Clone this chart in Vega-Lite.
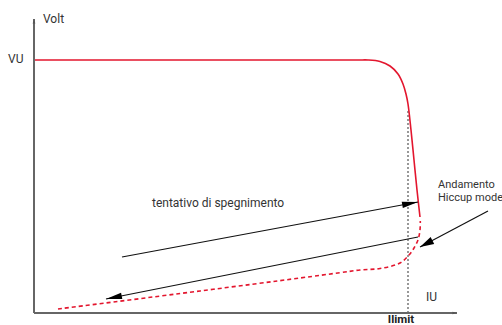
{
  "$schema": "https://vega.github.io/schema/vega-lite/v6.json",
  "width": 502,
  "height": 325,
  "padding": 0,
  "autosize": {"type": "none"},
  "config": {"view": {"stroke": null}, "axis": {"disable": true}},
  "datasets": {
    "axes": [
      {"id": "yaxis", "i1": 0, "v1": 0, "i2": 0, "v2": 294},
      {"id": "xaxis", "i1": 0, "v1": 0, "i2": 423, "v2": 0}
    ],
    "solid": [
      {"I": 1, "V": 253}, {"I": 300, "V": 253}, {"I": 325, "V": 253}, {"I": 334, "V": 253}, {"I": 346, "V": 251.5}, {"I": 356, "V": 247},
      {"I": 364, "V": 239}, {"I": 369, "V": 229}, {"I": 372, "V": 219}, {"I": 374, "V": 209},
      {"I": 377, "V": 183}, {"I": 380, "V": 153}, {"I": 383, "V": 123}, {"I": 386, "V": 96}
    ],
    "dashed": [
      {"I": 24, "V": 4}, {"I": 166, "V": 22}, {"I": 266, "V": 35}, {"I": 306, "V": 40.3}, {"I": 326, "V": 43},
      {"I": 346, "V": 44.5}, {"I": 366, "V": 50}, {"I": 375, "V": 58}, {"I": 380, "V": 65},
      {"I": 384, "V": 73}, {"I": 386, "V": 83}, {"I": 386.3, "V": 92}
    ],
    "limit": [{"I": 374, "v1": 0, "v2": 203}],
    "arrows": [
      {"id": "a1", "i1": 88, "v1": 56, "i2": 384, "v2": 111},
      {"id": "a2", "i1": 384, "v1": 76, "i2": 72, "v2": 14},
      {"id": "a3", "i1": 454, "v1": 102, "i2": 386, "v2": 66}
    ],
    "labels": [
      {"text": "Volt", "I": 9, "V": 294},
      {"text": "VU", "I": -26, "V": 254},
      {"text": "IU", "I": 392, "V": 16},
      {"text": "tentativo di spegnimento", "I": 118, "V": 110}
    ],
    "note": [
      {"text": "Andamento", "I": 404, "V": 128},
      {"text": "Hiccup mode", "I": 404, "V": 115}
    ],
    "bold": [{"text": "Ilimit", "I": 367, "V": -7}]
  },
  "layer": [
    {
      "data": {"name": "limit"},
      "mark": {"type": "rule", "color": "#777777", "strokeWidth": 1.5, "strokeDash": [2, 2]},
      "encoding": {
        "x": {"field": "I", "type": "quantitative", "scale": {"domain": [-34, 468], "nice": false, "zero": false}},
        "y": {"field": "v1", "type": "quantitative", "scale": {"domain": [-12, 313], "nice": false, "zero": false}},
        "y2": {"field": "v2"}
      }
    },
    {
      "data": {"name": "axes"},
      "mark": {"type": "rule", "color": "#666666", "strokeWidth": 2},
      "encoding": {
        "x": {"field": "i1", "type": "quantitative", "scale": {"domain": [-34, 468], "nice": false, "zero": false}},
        "y": {"field": "v1", "type": "quantitative", "scale": {"domain": [-12, 313], "nice": false, "zero": false}},
        "x2": {"field": "i2"},
        "y2": {"field": "v2"}
      }
    },
    {
      "data": {"name": "axes"},
      "transform": [{"filter": "datum.id == 'xaxis'"}],
      "mark": {"type": "point", "shape": "M0,0L-2,-0.6L-2,0.6Z", "size": 20, "filled": true, "color": "#555555", "opacity": 1, "angle": 0},
      "encoding": {
        "x": {"field": "i2", "type": "quantitative"},
        "y": {"field": "v2", "type": "quantitative"}
      }
    },
    {
      "data": {"name": "axes"},
      "transform": [{"filter": "datum.id == 'yaxis'"}],
      "mark": {"type": "point", "shape": "M0,0L-2,-0.6L-2,0.6Z", "size": 20, "filled": true, "color": "#555555", "opacity": 1, "angle": -90},
      "encoding": {
        "x": {"field": "i2", "type": "quantitative"},
        "y": {"field": "v2", "type": "quantitative"}
      }
    },
    {
      "data": {"name": "solid"},
      "mark": {"type": "line", "color": "#e3162e", "strokeWidth": 1.6, "interpolate": "catmull-rom"},
      "encoding": {
        "x": {"field": "I", "type": "quantitative"},
        "y": {"field": "V", "type": "quantitative"},
        "order": {"value": null}
      }
    },
    {
      "data": {"name": "dashed"},
      "mark": {"type": "line", "color": "#e3162e", "strokeWidth": 1.6, "strokeDash": [4, 3], "interpolate": "catmull-rom"},
      "encoding": {
        "x": {"field": "I", "type": "quantitative"},
        "y": {"field": "V", "type": "quantitative"},
        "order": {"value": null}
      }
    },
    {
      "data": {"name": "arrows"},
      "mark": {"type": "rule", "color": "#111111", "strokeWidth": 1.2},
      "encoding": {
        "x": {"field": "i1", "type": "quantitative"},
        "y": {"field": "v1", "type": "quantitative"},
        "x2": {"field": "i2"},
        "y2": {"field": "v2"}
      }
    },
    {
      "data": {"name": "arrows"},
      "transform": [{"filter": "datum.id == 'a1'"}],
      "mark": {"type": "point", "shape": "M0,0L-2,-0.4L-2,0.4Z", "size": 256, "filled": true, "color": "#000000", "opacity": 1, "angle": -10.5},
      "encoding": {
        "x": {"field": "i2", "type": "quantitative"},
        "y": {"field": "v2", "type": "quantitative"}
      }
    },
    {
      "data": {"name": "arrows"},
      "transform": [{"filter": "datum.id == 'a2'"}],
      "mark": {"type": "point", "shape": "M0,0L-2,-0.4L-2,0.4Z", "size": 256, "filled": true, "color": "#000000", "opacity": 1, "angle": 168.8},
      "encoding": {
        "x": {"field": "i2", "type": "quantitative"},
        "y": {"field": "v2", "type": "quantitative"}
      }
    },
    {
      "data": {"name": "arrows"},
      "transform": [{"filter": "datum.id == 'a3'"}],
      "mark": {"type": "point", "shape": "M0,0L-2,-0.55L-2,0.55Z", "size": 196, "filled": true, "color": "#000000", "opacity": 1, "angle": 152.4},
      "encoding": {
        "x": {"field": "i2", "type": "quantitative"},
        "y": {"field": "v2", "type": "quantitative"}
      }
    },
    {
      "data": {"name": "labels"},
      "mark": {"type": "text", "font": "Roboto", "fontSize": 12, "color": "#333333", "baseline": "middle", "align": "left"},
      "encoding": {
        "x": {"field": "I", "type": "quantitative"},
        "y": {"field": "V", "type": "quantitative"},
        "text": {"field": "text"}
      }
    },
    {
      "data": {"name": "note"},
      "mark": {"type": "text", "font": "Roboto", "fontSize": 11, "color": "#333333", "baseline": "middle", "align": "left"},
      "encoding": {
        "x": {"field": "I", "type": "quantitative"},
        "y": {"field": "V", "type": "quantitative"},
        "text": {"field": "text"}
      }
    },
    {
      "data": {"name": "bold"},
      "mark": {"type": "text", "font": "Roboto", "fontSize": 11.5, "fontWeight": "bold", "color": "#222222", "baseline": "middle", "align": "center"},
      "encoding": {
        "x": {"field": "I", "type": "quantitative"},
        "y": {"field": "V", "type": "quantitative"},
        "text": {"field": "text"}
      }
    }
  ]
}
